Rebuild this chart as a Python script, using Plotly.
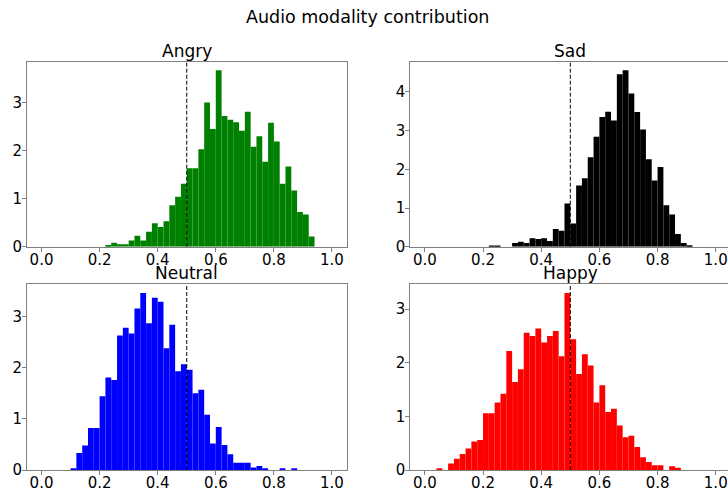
import numpy as np
import plotly.graph_objects as go

# Histogram bins: 50 equal-width bins on [0, 1]
bin_edges = np.linspace(0.0, 1.0, 51)

# Density per bin (50 values each)
angry = [0, 0, 0, 0, 0, 0, 0, 0, 0, 0,
         0, 0.035, 0.08, 0.05, 0.05, 0.13, 0.23, 0.13, 0.31, 0.49,
         0.41, 0.53, 0.86, 1.04, 1.31, 1.63, 1.63, 2.03, 3.00, 2.45,
         3.67, 2.72, 2.64, 2.59, 2.41, 2.81, 2.08, 2.30, 1.77, 2.58,
         2.19, 1.31, 1.67, 1.17, 0.72, 0.67, 0.21, 0, 0, 0]
sad = [0, 0, 0, 0, 0, 0, 0, 0, 0, 0,
       0, 0.03, 0.03, 0, 0, 0.095, 0.13, 0.095, 0.22, 0.20,
       0.22, 0.15, 0.46, 0.41, 1.12, 0.60, 1.58, 1.77, 2.31, 2.84,
       3.35, 3.49, 3.26, 4.46, 4.56, 3.96, 3.48, 3.03, 2.26, 1.71,
       2.06, 1.07, 0.83, 0.33, 0.095, 0.04, 0, 0, 0, 0]
neutral = [0, 0, 0, 0, 0, 0.03, 0.33, 0.48, 0.82, 0.82,
           1.44, 1.81, 1.76, 2.63, 2.78, 2.67, 3.16, 3.46, 2.87, 3.37,
           3.29, 2.38, 2.84, 1.93, 2.07, 1.96, 1.50, 1.57, 1.08, 0.52,
           0.84, 0.49, 0.31, 0.14, 0.14, 0.14, 0.05, 0.08, 0.03, 0,
           0, 0.03, 0, 0.03, 0, 0, 0, 0, 0, 0]
happy = [0, 0, 0.03, 0, 0.12, 0.21, 0.30, 0.40, 0.53, 0.56,
         1.06, 1.06, 1.26, 1.42, 2.22, 1.64, 1.88, 2.56, 2.50, 2.64,
         2.38, 2.50, 2.59, 2.12, 3.30, 2.44, 1.79, 2.16, 1.95, 1.26,
         1.58, 1.08, 1.14, 0.83, 0.61, 0.64, 0.43, 0.24, 0.15, 0.09,
         0.09, 0, 0.07, 0.04, 0, 0, 0, 0, 0, 0]

emotions = ["Angry", "Sad", "Neutral", "Happy"]
series = [angry, sad, neutral, happy]
colors = ["#008000", "#000000", "#0000ff", "#ff0000"]
threshold = 0.5
x_ticks = [0.0, 0.2, 0.4, 0.6, 0.8, 1.0]

W, H = 728, 492
FONT = "DejaVu Sans"
SPINE = "#808080"

# panel boxes in pixels: (left, right, top, bottom)
boxes = [(27.0, 346.5, 61.5, 246.7),
         (410.3, 730.3, 61.5, 246.7),
         (27.0, 346.5, 284.2, 470.0),
         (410.3, 730.3, 284.2, 470.0)]

fig = go.Figure()
centers = (bin_edges[:-1] + bin_edges[1:]) / 2
widths = np.diff(bin_edges)

layout = dict(
    width=W, height=H,
    margin=dict(l=0, r=0, t=0, b=0, pad=0),
    paper_bgcolor="white", plot_bgcolor="white",
    showlegend=False,
    font=dict(family=FONT, size=15, color="black"),
)
annotations = [dict(text="Audio modality contribution", x=367 / W, y=1 - 17 / H,
                    xref="paper", yref="paper", xanchor="center", yanchor="middle",
                    showarrow=False, font=dict(family=FONT, size=17.5, color="black"))]
shapes = []

for i, (name, vals, col) in enumerate(zip(emotions, series, colors)):
    n = "" if i == 0 else str(i + 1)
    xa, ya = "x" + n, "y" + n
    fig.add_trace(go.Bar(x=centers, y=vals, width=widths, marker=dict(color=col, line=dict(width=0)),
                         xaxis=xa, yaxis=ya, hoverinfo="skip"))
    left, right, top, bottom = boxes[i]
    span_px = right - left
    x0 = -0.05
    x1 = 1.05
    vis_right = min(right, W)
    x_vis = x0 + (x1 - x0) * (vis_right - left) / span_px
    ymax = max(vals) * 1.05
    is_right = i % 2 == 1
    layout["xaxis" + n] = dict(
        domain=[left / W, vis_right / W], range=[x0, x_vis], anchor=ya, automargin=False,
        showline=True, linecolor=SPINE, linewidth=1, mirror=True,
        ticks="outside", ticklen=4, tickcolor=SPINE, tickwidth=1, ticklabelstandoff=-5,
        tickvals=x_ticks, ticktext=[f"{t:.1f}" for t in x_ticks],
        showgrid=False, zeroline=False, tickfont=dict(family=FONT, size=15, color="black"),
    )
    layout["yaxis" + n] = dict(
        domain=[1 - bottom / H, 1 - top / H], range=[0, ymax], anchor=xa, automargin=False,
        showline=True, linecolor=SPINE, linewidth=1, mirror=False if is_right else True,
        ticks="outside", ticklen=4, tickcolor=SPINE, tickwidth=1, dtick=1, tick0=0,
        ticklabelstandoff=-3,
        showgrid=False, zeroline=False, tickfont=dict(family=FONT, size=15, color="black"),
    )
    annotations.append(dict(text=name, x=(left + right) / 2 / W, y=1 - (top + 1) / H,
                            xref="paper", yref="paper", xanchor="center", yanchor="bottom",
                            showarrow=False, font=dict(family=FONT, size=17, color="black")))
    shapes.append(dict(type="line", xref=xa, yref=ya + " domain", x0=threshold, x1=threshold,
                       y0=0, y1=1, line=dict(color="black", width=1, dash="4px,2px")))

layout["annotations"] = annotations
layout["shapes"] = shapes
fig.update_layout(**layout)
fig.write_html("out.html")
